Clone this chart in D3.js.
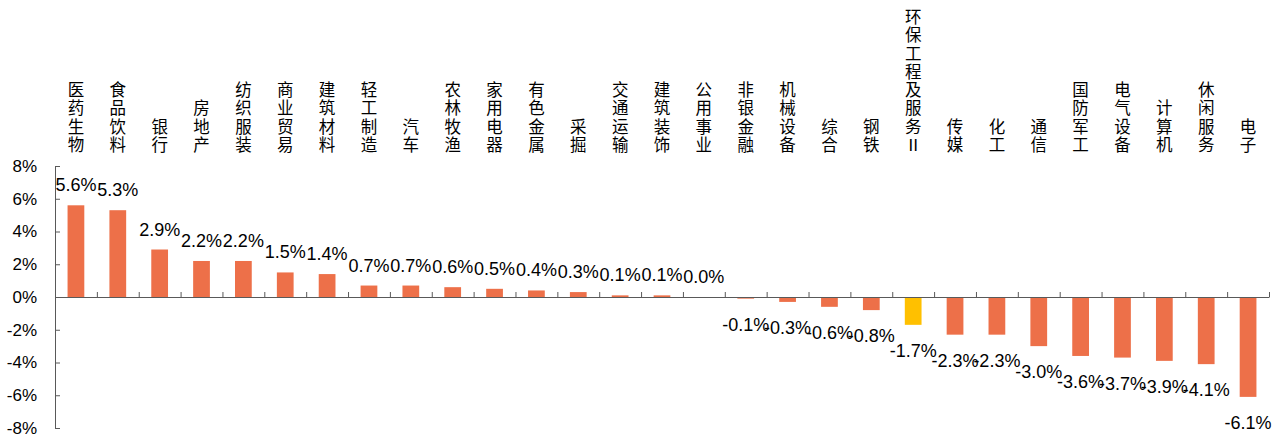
<!DOCTYPE html>
<html>
<head>
<meta charset="utf-8">
<script src="https://cdn.jsdelivr.net/npm/d3@7"></script>
<style>
  html, body { margin: 0; padding: 0; background: #fff; }
  svg { display: block; }
</style>
</head>
<body>
<svg id="chart" width="1285" height="439"></svg>
<script>
// Industry names (Shenwan level-1) and weekly change, in percent
const categories = [
  "医药生物", "食品饮料", "银行", "房地产", "纺织服装", "商业贸易", "建筑材料",
  "轻工制造", "汽车", "农林牧渔", "家用电器", "有色金属", "采掘", "交通运输",
  "建筑装饰", "公用事业", "非银金融", "机械设备", "综合", "钢铁", "环保工程及服务Ⅱ",
  "传媒", "化工", "通信", "国防军工", "电气设备", "计算机", "休闲服务", "电子"
];
const values = [
  5.6, 5.3, 2.9, 2.2, 2.2, 1.5, 1.4,
  0.7, 0.7, 0.6, 0.5, 0.4, 0.3, 0.1,
  0.1, 0.0, -0.1, -0.3, -0.6, -0.8, -1.7,
  -2.3, -2.3, -3.0, -3.6, -3.7, -3.9, -4.1, -6.1
];
const highlighted = ["环保工程及服务Ⅱ"];
const yTicks = [-8, -6, -4, -2, 0, 2, 4, 6, 8];

const data = categories.map((c, i) => ({ name: c, value: values[i] }));

const svg = d3.select("#chart");
const plotLeft = 55, plotRight = 1269, plotTop = 166, plotBottom = 428;

const x = d3.scaleBand()
  .domain(categories)
  .range([plotLeft, plotRight])
  .paddingInner(0.6)
  .paddingOuter(0.3);

const y = d3.scaleLinear().domain([-8, 8]).range([plotBottom, plotTop]);

const barColor = "#ED7049";
const hiColor = "#FFC000";
const axisColor = "#595959";

// Bars
svg.append("g").selectAll("rect")
  .data(data)
  .join("rect")
  .attr("x", d => x(d.name))
  .attr("width", x.bandwidth())
  .attr("y", d => y(Math.max(0, d.value)))
  .attr("height", d => Math.abs(y(d.value) - y(0)))
  .attr("fill", d => highlighted.includes(d.name) ? hiColor : barColor);

// Y axis with inward ticks
const yAxis = svg.append("g")
  .attr("transform", `translate(${plotLeft},0)`)
  .call(d3.axisLeft(y)
    .tickValues(yTicks)
    .tickSizeInner(-5)
    .tickSizeOuter(-5)
    .tickPadding(18)
    .tickFormat(d => d + "%"));
yAxis.selectAll("path, line").attr("stroke", axisColor);
yAxis.selectAll("text")
  .attr("fill", "#000")
  .style("font-family", "'Liberation Sans', Arial, sans-serif")
  .style("font-size", "17px");

// Zero line with category boundary ticks
const idx = d3.scaleLinear().domain([0, categories.length]).range([plotLeft, plotRight]);
const xAxis = svg.append("g")
  .attr("transform", `translate(0,${y(0)})`)
  .call(d3.axisTop(idx)
    .tickValues(d3.range(1, categories.length + 1))
    .tickSizeInner(5)
    .tickSizeOuter(0)
    .tickFormat(""));
xAxis.selectAll("path, line").attr("stroke", axisColor);

// Value labels
svg.append("g").selectAll("text")
  .data(data)
  .join("text")
  .attr("x", d => x(d.name) + x.bandwidth() / 2)
  .attr("y", d => d.value >= 0 ? y(d.value) - 14 : y(d.value) + 32)
  .attr("text-anchor", "middle")
  .style("font-family", "'Liberation Sans', Arial, sans-serif")
  .style("font-size", "18px")
  .attr("fill", "#000")
  .text(d => d.value.toFixed(1) + "%");

// Vertical category names, one character per line, bottom-aligned
const lineH = 18.3, lastBase = 151;
const names = svg.append("g").selectAll("text")
  .data(data)
  .join("text")
  .attr("text-anchor", "middle")
  .style("font-family", "'Noto Sans CJK SC', sans-serif")
  .style("font-size", "16.5px")
  .attr("fill", "#000");
names.each(function(d) {
  const chars = Array.from(d.name);
  const cx = x(d.name) + x.bandwidth() / 2;
  d3.select(this).selectAll("tspan")
    .data(chars)
    .join("tspan")
    .attr("x", cx)
    .attr("y", (ch, i) => lastBase - (chars.length - 1 - i) * lineH)
    .text(ch => ch);
});
</script>
</body>
</html>
